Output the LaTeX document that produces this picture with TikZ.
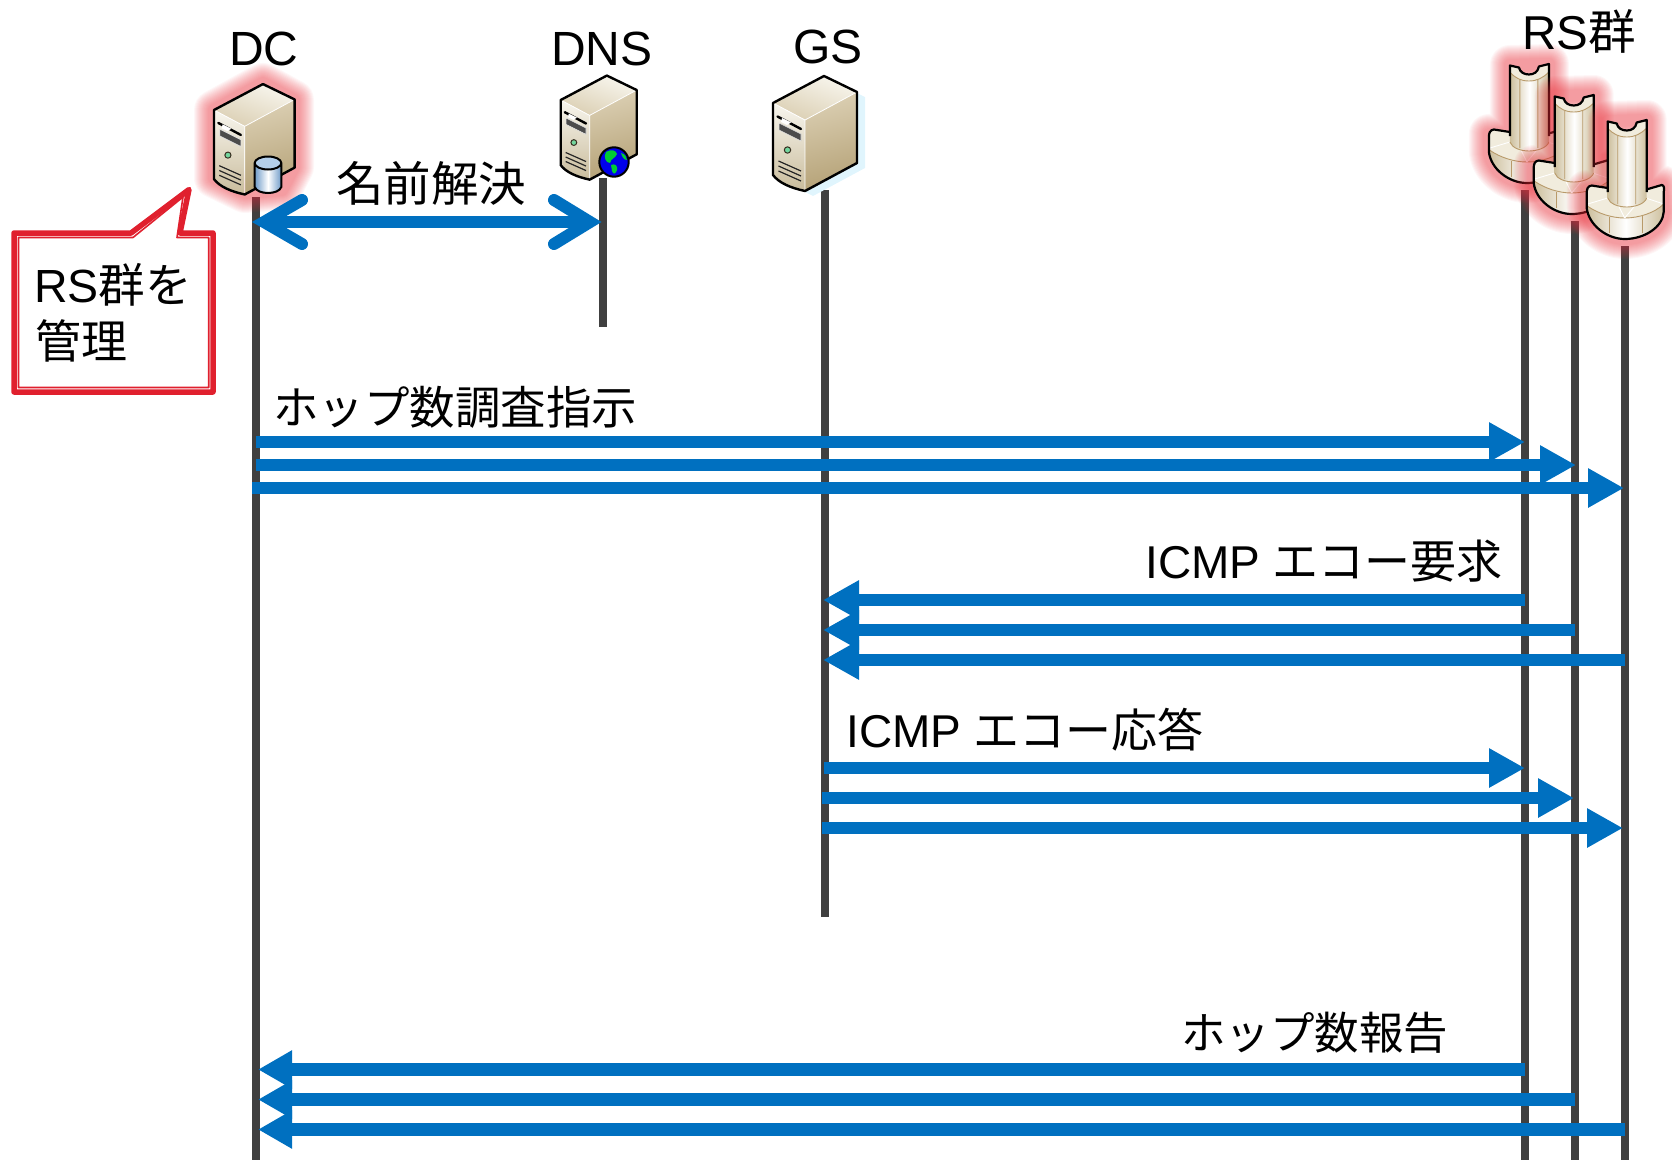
\documentclass[tikz,border=0pt]{standalone}
\usepackage{fontspec}
\setmainfont{Liberation Sans}
\newfontfamily\jp{Noto Sans CJK JP}
\usetikzlibrary{arrows.meta}
\definecolor{msgblue}{HTML}{0070C0}
\definecolor{lifegray}{HTML}{404040}
\definecolor{calloutred}{HTML}{E0202E}
\definecolor{glowred}{HTML}{E8323C}
\definecolor{tanD}{HTML}{B5A277}
\definecolor{tanM}{HTML}{DBCFB3}
\definecolor{tanL}{HTML}{F8F6EE}
\definecolor{frontB}{HTML}{C9BC9C}
\definecolor{brownline}{HTML}{B89A6A}
\definecolor{rsside}{HTML}{CDBF9C}
\definecolor{rstop}{HTML}{F1ECDD}
\definecolor{dbside}{HTML}{6F9BC8}
\definecolor{dbtop}{HTML}{B4CFEA}
\newcommand{\fsz}[1]{\fontsize{#1}{56}\selectfont}
\tikzset{
  label text/.style={inner sep=0pt,anchor=base west,font=\fontsize{46}{56}\selectfont},
  life/.style={line width=8.5pt,lifegray},
  msg/.style={line width=12.5pt,msgblue,-{Triangle[length=36pt,width=37pt]}},
  msgback/.style={line width=12.5pt,msgblue,-{Triangle[length=34pt,width=36pt]}},
  glowstroke/.style={glowred,opacity=.042,line join=round},
  pics/server/.style={code={
    \path[top color=tanL,bottom color=tanM,shading angle=-20]
      (0,0)--(51,-27)--(84,-11)--(32,17)--cycle;
    \path[top color=tanL,bottom color=frontB]
      (0,0)--(32,17)--(32,88) .. controls (18,85) and (6,80) .. (0,72)--cycle;
    \path[top color=tanM,bottom color=tanD,shading angle=15]
      (32,17)--(84,-11)--(84,60)--(32,88)--cycle;
    \draw[white,line width=.8pt] (0,0)--(32,17)--(84,-11) (32,17)--(32,88);
    \draw[black,line width=2.4pt,line cap=round] (4.5,13.5)--(28,26);
    \path[fill=black!70,draw=black!10,line width=.6pt] (6,20)--(28,31)--(28,38)--(6,27)--cycle;
    \path[fill=white] (9,15)--(18,19.5)--(14,22)--(8,19)--cycle;
    \draw[black!70!brownline,line width=1pt,fill=green!40!teal!55!white] (14.5,47) circle (3.2);
    \foreach \d in {0,5,10}
      \draw[black!85,line width=1.2pt] (5.5,58+\d)--(28,68+\d);
    \draw[black,line width=2.4pt,line join=round]
      (0,0)--(51,-27)--(84,-11)--(84,60)--(32,88) .. controls (18,85) and (6,80) .. (0,72)--cycle;
  }},
  pics/rsicon/.style={code={
    \foreach \w in {12,14,...,40}
      \draw[glowstroke,line width=\w pt]
        (-19,1)--(20,0)--(20,66)--(35,65)--(37,92) .. controls (36,107) and (18,119) .. (-2,119)
        .. controls (-20,119) and (-38,105) .. (-40,88)--(-40,70)--(-19,68)--cycle;
    \path[left color=rsside,right color=rsside,middle color=white]
      (-19,68)--(-35,65.5) .. controls (-39,66) and (-40,69) .. (-40,73)--(-40,88)
      .. controls (-38,105) and (-20,119) .. (-2,119) .. controls (18,119) and (36,107) .. (37,92)
      --(37,72) .. controls (38,68) and (37,65) .. (35,65)--(18,70)--cycle;
    \path[fill=rstop]
      (-19,68)--(-35,65.5) .. controls (-39,66) and (-40,69) .. (-40,73)--(-39.5,86)
      .. controls (-28,94) and (-14,98) .. (-2,98) .. controls (12,98) and (28,93) .. (37,84)
      --(37,72) .. controls (38,68) and (37,65) .. (35,65)--(18,70)--cycle;
    \draw[brownline,line width=.9pt] (-39.5,86) .. controls (-28,94) and (-14,98) .. (-2,98) .. controls (12,98) and (28,93) .. (37,84);
    \draw[brownline,line width=.9pt] (-17,97)--(-17,113) (16,96)--(16,113);
    \draw[white,line width=.9pt] (-39,84)--(-19,78) (19,78)--(37,84) (-8,86)--(-2,98) (8,86)--(-2,98);
    \draw[black,line width=2.2pt,line join=round]
      (-19,68)--(-35,65.5) .. controls (-39,66) and (-40,69) .. (-40,73)--(-40,88)
      .. controls (-38,105) and (-20,119) .. (-2,119) .. controls (18,119) and (36,107) .. (37,92)
      --(37,72) .. controls (38,68) and (37,65) .. (35,65)--(18,70);
    \path[left color=rsside,right color=rsside,middle color=white]
      (-19,1.5)--(-10,3.5) .. controls (-9,8) and (-5,10.5) .. (0,10.5) .. controls (5,10.5) and (9,8) .. (10,2.5)
      --(20,0)--(20,78) .. controls (18,84) and (8,87) .. (0,87) .. controls (-8,87) and (-17,84) .. (-19,78)--cycle;
    \path[fill=rstop]
      (-19,1.5)--(-10,3.5) .. controls (-9,8) and (-5,10.5) .. (0,10.5) .. controls (5,10.5) and (9,8) .. (10,2.5)
      --(20,0)--(20,8) .. controls (14,14) and (8,17) .. (0,17) .. controls (-8,17) and (-14,14) .. (-19,8)--cycle;
    \draw[brownline,line width=.9pt]
      (-19,8) .. controls (-14,14) and (-8,17) .. (0,17) .. controls (8,17) and (14,14) .. (20,8)
      (-9,15)--(-9,84) (9,15)--(9,84)
      (20,78) .. controls (18,84) and (8,87) .. (0,87) .. controls (-8,87) and (-17,84) .. (-19,78);
    \draw[black,line width=2.2pt,line join=round]
      (-19,72)--(-19,1.5)--(-10,3.5) .. controls (-9,8) and (-5,10.5) .. (0,10.5) .. controls (5,10.5) and (9,8) .. (10,2.5)
      --(20,0)--(20,72);
  }}
}
\begin{document}
\begin{tikzpicture}[x=1pt,y=-1pt]
\useasboundingbox (0,0) rectangle (1672,1167);

% lifeline end points
\coordinate (dcT) at (256,197);   \coordinate (dcB) at (256,1160);
\coordinate (dnsT) at (603,178);  \coordinate (dnsB) at (603,327);
\coordinate (gsT) at (825,190);   \coordinate (gsB) at (825,917);
\coordinate (rsaT) at (1525,190); \coordinate (rsaB) at (1525,1160);
\coordinate (rsbT) at (1575,221); \coordinate (rsbB) at (1575,1160);
\coordinate (rscT) at (1625,246); \coordinate (rscB) at (1625,1160);
\foreach \n in {dc,dns,gs,rsa,rsb,rsc} \draw[life] (\n T) -- (\n B);

% glow round DC
\foreach \w in {12,14,...,40}
  \draw[glowstroke,line width=\w pt] (214,110)--(263,83)--(294,100)--(294,167)--(282,190)--(245,193)--(214,178)--cycle;

% servers
\fill[cyan!12,xshift=8pt,yshift=-5pt] (773,103)--(824,76)--(857,92)--(857,163)--(805,191)--(773,175)--cycle;
\pic[scale=.96] (dcicon) at (214,110) {server};
\pic[scale=.905] (dnsicon) at (560.7,100) {server};
\pic (gsicon) at (773,103) {server};

% database badge on DC
\path[left color=dbside,right color=dbside,middle color=white]
  (254.7,163)--(254.7,187) .. controls (256,191) and (262,193) .. (268,193) .. controls (274,193) and (280,191) .. (281.3,187)--(281.3,163)--cycle;
\fill[dbtop] (268,163) ellipse (13.3 and 6.5);
\draw[black,line width=2pt]
  (254.7,163)--(254.7,187) .. controls (256,191) and (262,193) .. (268,193) .. controls (274,193) and (280,191) .. (281.3,187)--(281.3,163)
  (268,163) ellipse (13.3 and 6.5);

% globe badge on DNS
\fill[blue!92!black] (614,162) circle (14.7);
\fill[green!60!teal] (606,152) .. controls (611,149) and (616,150) .. (617,154) .. controls (615,159) and (611,158) .. (610,163) .. controls (606,163) and (603,157) .. (606,152)--cycle;
\fill[green!60!teal] (611,165) .. controls (615,163) and (618,166) .. (617,170) .. controls (616,174) and (613,175) .. (612,171)--cycle;
\fill[green!60!teal] (621,153) .. controls (625,154) and (627,157) .. (627,160) .. controls (624,160) and (622,157) .. (621,153)--cycle;
\draw[black,line width=2pt] (614,162) circle (14.7);

% RS icons
\pic (rsaicon) at (1528.9,64) {rsicon};
\pic (rsbicon) at (1573.7,95) {rsicon};
\pic (rscicon) at (1626.7,120) {rsicon};

% name-resolution double arrow
\coordinate (nameL) at (264,222);
\coordinate (nameR) at (590,222);
\coordinate (nameLa) at (302,200); \coordinate (nameLb) at (302,244);
\coordinate (nameRa) at (554,200); \coordinate (nameRb) at (554,244);
\draw[line width=12pt,msgblue] (nameL) -- (nameR);
\draw[line width=12pt,msgblue,line cap=round,miter limit=10] (nameLa) -- (nameL) -- (nameLb);
\draw[line width=12pt,msgblue,line cap=round,miter limit=10] (nameRa) -- (nameR) -- (nameRb);

% messages
\foreach \n/\xa/\xb/\y in {
  a/256/1525/442, b/256/1576/465, c/252/1624/488,
  g/1525/823/600, h/1575/823/630, i/1625/823/660,
  j/824/1525/768, k/822/1574/798, l/822/1623/828}{
  \coordinate (s\n) at (\xa,\y);
  \coordinate (e\n) at (\xb,\y);
  \draw[msg] (s\n) -- (e\n);
}
\foreach \n/\xb/\y in {p/1525/1069.5, q/1575/1099.5, r/1625/1129.5}{
  \coordinate (s\n) at (\xb,\y);
  \coordinate (e\n) at (258,\y);
  \draw[msgback] (s\n) -- (e\n);
}

% callout
\draw[calloutred,fill=white,line width=5.5pt,line join=round]
  (14,233)--(131,233)--(189,189.5)--(180,233)--(213,233)--(213,392)--(14,392)--cycle;
\draw[calloutred,line width=1.6pt,line join=round]
  (18.5,237.5)--(133,237.5)--(183,197)--(177,237.5)--(208.7,237.5)--(208.7,387.5)--(18.5,387.5)--cycle;

% labels
\node[label text] (ldc) at (229,65) {\fsz{48}DC};
\node[label text] (ldns) at (551,65) {\fsz{48}DNS};
\node[label text] (lgs) at (793,63) {\fsz{48}GS};
\node[label text] (lrs) at (1522,49) {\fsz{47.5}RS{\jp 群}};
\node[label text] (lname) at (336,201) {\fsz{47.5}\jp 名前解決};
\node[label text] (lhop) at (273,424) {\fsz{45.5}\jp ホップ数調査指示};
\node[label text] (lreq) at (1145,578) {ICMP {\jp エコー要求}};
\node[label text] (lres) at (846,747) {ICMP {\jp エコー応答}};
\node[label text] (lrep) at (1181,1049) {\fsz{44.5}\jp ホップ数報告};
\node[label text] (lc1) at (34,302) {\fsz{46.5}RS{\jp 群を}};
\node[label text] (lc2) at (35,358) {\jp 管理};
\end{tikzpicture}
\end{document}
